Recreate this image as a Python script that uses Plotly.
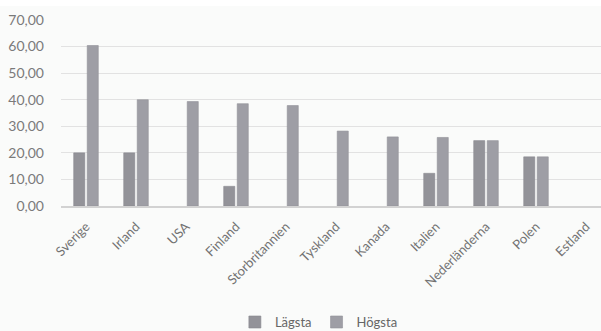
import plotly.graph_objects as go

categories = ["Sverige", "Irland", "USA", "Finland", "Storbritannien", "Tyskland",
              "Kanada", "Italien", "Nederländerna", "Polen", "Estland"]
lagsta = [20.0, 20.0, None, 7.4, None, None, None, 12.3, 24.6, 18.5, None]
hogsta = [60.4, 40.0, 39.3, 38.5, 37.8, 28.2, 26.0, 25.8, 24.6, 18.5, None]
y_ticks = [0, 10, 20, 30, 40, 50, 60, 70]

fig = go.Figure()
fig.add_trace(go.Bar(name="Lägsta", x=categories, y=lagsta,
                     marker=dict(color="#939399", line=dict(color="#88888e", width=0.6))))
fig.add_trace(go.Bar(name="Högsta", x=categories, y=hogsta,
                     marker=dict(color="#9e9ea5", line=dict(color="#929298", width=0.6))))

font_family = "Lato, 'Noto Sans', sans-serif"
fig.update_layout(
    width=601, height=331,
    margin=dict(l=61, r=0, t=20, b=125, autoexpand=False),
    paper_bgcolor="#fafbfa", plot_bgcolor="#fafbfa",
    barmode="group", bargap=0.46, bargroupgap=0.18,
    separators=", ",
    font=dict(family=font_family, color="#727272", size=13),
    showlegend=True,
    legend=dict(orientation="h", x=0.322, xanchor="left",
                yref="container", y=0.027, yanchor="middle",
                font=dict(size=13, color="#666666"), bgcolor="rgba(0,0,0,0)",
                itemwidth=30, traceorder="normal"),
    shapes=[dict(type="rect", xref="paper", yref="paper", x0=-0.2, x1=1.1,
                 y0=1.075, y1=1.2, fillcolor="#ffffff", line=dict(width=0), layer="below")],
)
fig.update_xaxes(type="category", range=[-0.5, 10.3], tickangle=-45,
                 showline=True, linecolor="#d2d2d2", linewidth=2,
                 showgrid=False, ticks="", ticklabelstandoff=6,
                 tickfont=dict(size=13, color="#727272"))
fig.update_yaxes(range=[0, 70], tickvals=y_ticks, tickformat=".2f",
                 showgrid=True, gridcolor="#e2e2e2", gridwidth=1, zeroline=False,
                 showline=False, ticks="", ticklabelstandoff=16,
                 tickfont=dict(size=14, color="#7a7a7a"))

fig.write_html("out.html")
